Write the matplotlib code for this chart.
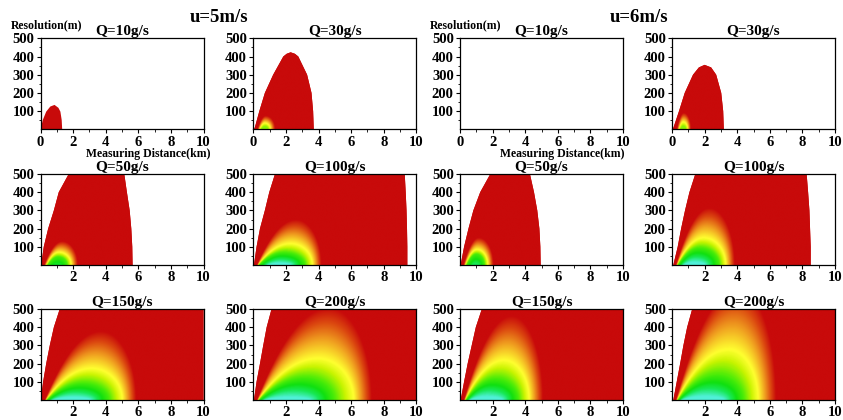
import numpy as np
import matplotlib
matplotlib.use("Agg")
import matplotlib.pyplot as plt
from matplotlib.colors import LinearSegmentedColormap, to_rgba

plt.rcParams['font.family'] = ['Liberation Serif', 'DejaVu Serif']
plt.rcParams['font.weight'] = 'bold'
plt.rcParams['axes.titleweight'] = 'bold'

speeds = [5, 6]
q_rows = [[10, 30], [50, 100], [150, 200]]

# outer (valid) region outline: km / m
outline_x = {
    (5, 10): [0.04, 0.06, 0.14, 0.35, 0.6, 0.86, 1.1, 1.22, 1.3, 1.33],
    (5, 30): [0.04, 0.1, 0.37, 0.71, 1.22, 1.84, 2.05, 2.29, 2.55, 2.76, 3.3, 3.57, 3.67, 3.71],
    (5, 50): [0.04, 0.2, 0.47, 0.82, 1.12, 1.73, 5.14, 5.3, 5.47, 5.57, 5.63, 5.65],
    (5, 100): [0.04, 0.2, 0.41, 0.71, 0.98, 1.33, 9.29, 9.35, 9.4, 9.43, 9.45, 9.45],
    (5, 150): [0.02, 0.16, 0.35, 0.57, 0.82, 1.18, 10, 10],
    (5, 200): [0.04, 0.2, 0.41, 0.61, 0.82, 1.12, 10, 10],
    (6, 10): [],
    (6, 30): [0.04, 0.1, 0.43, 0.78, 1.29, 1.65, 2.0, 2.4, 2.71, 3.02, 3.14, 3.18],
    (6, 50): [0.04, 0.25, 0.52, 0.82, 1.24, 1.86, 4.29, 4.54, 4.74, 4.87, 4.93, 4.95],
    (6, 100): [0.08, 0.35, 0.56, 0.8, 1.07, 1.43, 8.26, 8.35, 8.43, 8.47, 8.51, 8.51],
    (6, 150): [0.04, 0.25, 0.47, 0.72, 0.97, 1.34, 10, 10],
    (6, 200): [0.08, 0.29, 0.5, 0.7, 0.93, 1.24, 10, 10],
}
outline_y = {
    (5, 10): [0, 20, 51, 97, 125, 134, 118, 97, 51, 0],
    (5, 30): [0, 12, 100, 200, 300, 400, 415, 423, 415, 400, 300, 200, 100, 0],
    (5, 50): [0, 100, 200, 300, 400, 500, 500, 400, 300, 200, 100, 0],
    (5, 100): [0, 100, 200, 300, 400, 500, 500, 400, 300, 200, 100, 0],
    (5, 150): [0, 100, 200, 300, 400, 500, 500, 0],
    (5, 200): [0, 100, 200, 300, 400, 500, 500, 0],
    (6, 10): [],
    (6, 30): [0, 12, 100, 200, 300, 340, 354, 340, 300, 200, 100, 0],
    (6, 50): [0, 100, 200, 300, 400, 500, 500, 400, 300, 200, 100, 0],
    (6, 100): [0, 100, 200, 300, 400, 500, 500, 400, 300, 200, 100, 0],
    (6, 150): [0, 100, 200, 300, 400, 500, 500, 0],
    (6, 200): [0, 100, 200, 300, 400, 500, 500, 0],
}

# nested colour domes near the ground: level, left foot, peak x, right foot, peak height
core_level = {
    (5, 30): [0.42, 0.52, 1.0], (6, 30): [0.42, 0.52, 1.0],
    (5, 50): [0.25, 0.38, 0.52, 1.0], (6, 50): [0.2, 0.38, 0.52, 1.0],
    (5, 100): [0.1, 0.38, 0.52, 1.0], (6, 100): [0.1, 0.38, 0.52, 1.0],
    (5, 150): [0.1, 0.38, 0.52, 1.0], (6, 150): [0.1, 0.38, 0.52, 1.0],
    (5, 200): [0.1, 0.38, 0.52, 1.0], (6, 200): [0.1, 0.38, 0.52, 1.0],
}
core_left = {
    (5, 30): [0.5, 0.4, 0.28], (6, 30): [0.5, 0.42, 0.3],
    (5, 50): [0.75, 0.4, 0.32, 0.2], (6, 50): [0.75, 0.4, 0.32, 0.22],
    (5, 100): [0.9, 0.35, 0.3, 0.25], (6, 100): [0.7, 0.35, 0.3, 0.25],
    (5, 150): [0.7, 0.35, 0.3, 0.25], (6, 150): [0.6, 0.35, 0.3, 0.25],
    (5, 200): [0.7, 0.35, 0.3, 0.25], (6, 200): [0.6, 0.35, 0.3, 0.25],
}
core_peak = {
    (5, 30): [0.72, 0.72, 0.78], (6, 30): [0.67, 0.68, 0.72],
    (5, 50): [1.0, 1.05, 1.1, 1.3], (6, 50): [0.95, 1.0, 1.05, 1.15],
    (5, 100): [1.6, 1.9, 2.3, 2.65], (6, 100): [1.35, 1.7, 1.95, 2.3],
    (5, 150): [1.9, 2.6, 3.1, 3.7], (6, 150): [1.6, 2.2, 2.7, 3.2],
    (5, 200): [2.2, 3.2, 4.0, 4.7], (6, 200): [2.0, 2.8, 3.5, 4.1],
}
core_right = {
    (5, 30): [0.92, 1.05, 1.35], (6, 30): [0.85, 0.95, 1.15],
    (5, 50): [1.25, 1.6, 1.85, 2.25], (6, 50): [1.15, 1.5, 1.7, 2.05],
    (5, 100): [2.3, 3.2, 3.65, 4.2], (6, 100): [2.0, 2.9, 3.3, 3.85],
    (5, 150): [3.0, 4.2, 5.0, 5.85], (6, 150): [2.6, 3.6, 4.25, 5.1],
    (5, 200): [3.5, 5.0, 6.2, 7.3], (6, 200): [3.2, 4.4, 5.3, 6.4],
}
core_height = {
    (5, 30): [14, 32, 72], (6, 30): [16, 38, 88],
    (5, 50): [8, 45, 70, 130], (6, 50): [8, 60, 85, 150],
    (5, 100): [10, 70, 118, 250], (6, 100): [15, 95, 150, 315],
    (5, 150): [15, 95, 175, 380], (6, 150): [18, 120, 220, 465],
    (5, 200): [15, 125, 230, 510], (6, 200): [20, 140, 280, 620],
}

RED = '#c80a0a'
cmap = LinearSegmentedColormap.from_list('res', [
    (0.0, '#70f8f0'), (0.1, '#50f0d8'), (0.2, '#18e858'), (0.28, '#10e010'),
    (0.38, '#48ec08'), (0.46, '#c8f400'), (0.52, '#ffff30'), (0.7, '#f0a020'),
    (0.86, '#dc4a10'), (1.0, RED)])

xs = np.linspace(0, 10, 500)
ys = np.linspace(0, 500, 250)
X, Y = np.meshgrid(xs, ys)


def dome(x, xl, xp, xr, h):
    out = np.zeros_like(x)
    m = (x >= xl) & (x <= xp)
    u = (x[m] - xl) / (xp - xl)
    out[m] = h * (1 - (1 - u) ** 2)
    m = (x > xp) & (x <= xr)
    u = (xr - x[m]) / (xr - xp)
    out[m] = h * np.sqrt(np.clip(1 - (1 - u) ** 2, 0, 1))
    return out


def core_image(key):
    lv = core_level[key]
    tg = np.linspace(lv[0], 1, 160)
    hs = np.array([dome(xs, np.interp(t, lv, core_left[key]), np.interp(t, lv, core_peak[key]),
                        np.interp(t, lv, core_right[key]), np.interp(t, lv, core_height[key]))
                   for t in tg])
    inside = Y[None, :, :] < hs[:, None, :]
    first = inside.argmax(axis=0)
    rgba = cmap(tg[first])
    rgba[~inside.any(axis=0)] = to_rgba(RED)
    return rgba


fig = plt.figure(figsize=(8.43, 4.2), dpi=100)
col_left = [40.5, 253.3, 460, 672]
row_bottom = [129.3, 265, 400]
W, H = 843.0, 420.0

for gi, u in enumerate(speeds):
    for r, qs in enumerate(q_rows):
        for c, q in enumerate(qs):
            key = (u, q)
            ax = fig.add_axes([col_left[gi * 2 + c] / W, 1 - row_bottom[r] / H, 163 / W, 91 / H])
            if outline_x[key]:
                poly = ax.fill(outline_x[key], outline_y[key], color=RED, lw=0, zorder=1)[0]
                if key in core_level:
                    im = ax.imshow(core_image(key), extent=[0, 10, 0, 500], origin='lower',
                                   aspect='auto', interpolation='bilinear', zorder=2)
                    im.set_clip_path(poly)
            ax.set_xlim(0, 10)
            ax.set_ylim(0, 500)
            ax.set_xticks([0, 2, 4, 6, 8, 10] if r == 0 else [2, 4, 6, 8, 10])
            ax.set_xticks([1, 3, 5, 7, 9], minor=True)
            ax.set_yticks([100, 200, 300, 400, 500])
            ax.set_yticks(np.arange(50, 500, 50), minor=True)
            ax.tick_params(which='major', length=3, width=0.8, labelsize=10.5, pad=1.5)
            ax.tick_params(which='minor', length=1.8, width=0.6)
            for lab in ax.get_xticklabels() + ax.get_yticklabels():
                lab.set_fontweight('bold')
            for s in ax.spines.values():
                s.set_linewidth(0.9)
            ax.set_title(f'Q={q}g/s', fontsize=11, pad=2.5)

fig.text(219 / W, 1 - 18 / H, 'u=5m/s', ha='center', va='center', fontsize=13.5, fontweight='bold')
fig.text(639 / W, 1 - 18 / H, 'u=6m/s', ha='center', va='center', fontsize=13.5, fontweight='bold')
for xr_, xd_ in [(47, 148), (466, 562)]:
    fig.text(xr_ / W, 1 - 25 / H, 'Resolution(m)', ha='center', va='center', fontsize=8.5, fontweight='bold')
    fig.text(xd_ / W, 1 - 154 / H, 'Measuring Distance(km)', ha='center', va='center',
             fontsize=8.5, fontweight='bold')

fig.savefig('out.png', dpi=100)
